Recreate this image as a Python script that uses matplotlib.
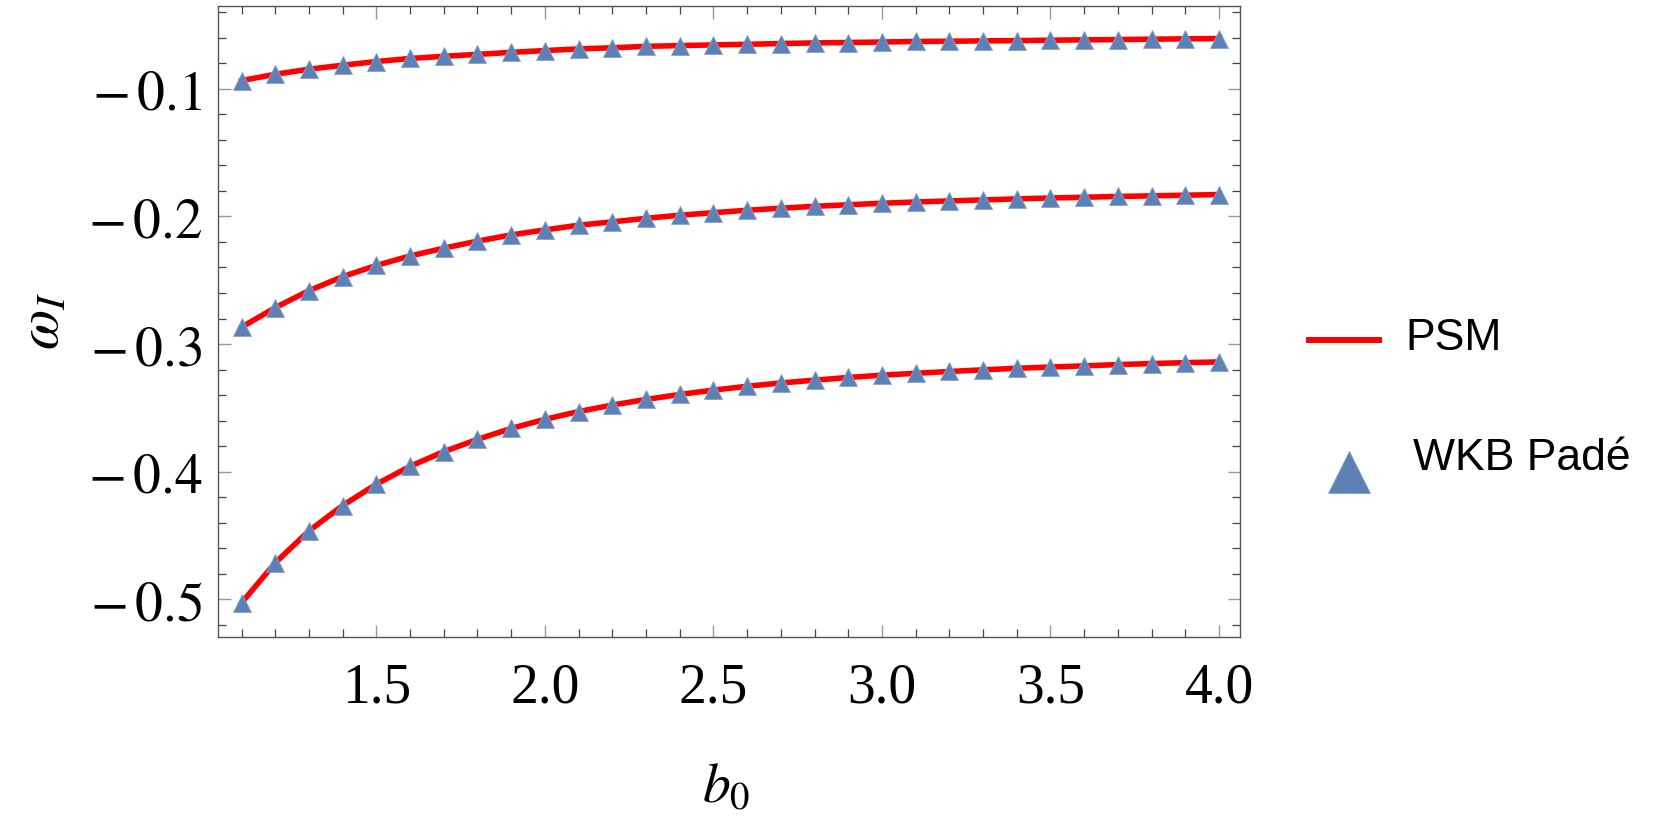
import matplotlib
matplotlib.use("Agg")
import matplotlib.pyplot as plt
from matplotlib.lines import Line2D
from matplotlib.ticker import MultipleLocator

# b0 values where the modes are computed
b0 = [1.1, 1.2, 1.3, 1.4, 1.5, 1.6, 1.7, 1.8, 1.9, 2.0,
      2.1, 2.2, 2.3, 2.4, 2.5, 2.6, 2.7, 2.8, 2.9, 3.0,
      3.1, 3.2, 3.3, 3.4, 3.5, 3.6, 3.7, 3.8, 3.9, 4.0]

# imaginary part of the frequency, three overtones
omega_n0 = [-0.0936, -0.0887, -0.0847, -0.0816, -0.0787, -0.0763, -0.0746, -0.0731, -0.0715, -0.0701,
            -0.0688, -0.0679, -0.0668, -0.0662, -0.0657, -0.0652, -0.0646, -0.0641, -0.0638, -0.0634,
            -0.0630, -0.0628, -0.0625, -0.0623, -0.0620, -0.0617, -0.0615, -0.0612, -0.0609, -0.0607]
omega_n1 = [-0.2868, -0.2715, -0.2582, -0.2472, -0.2384, -0.2310, -0.2249, -0.2194, -0.2145, -0.2106,
            -0.2069, -0.2043, -0.2015, -0.1991, -0.1971, -0.1952, -0.1936, -0.1921, -0.1909, -0.1897,
            -0.1887, -0.1879, -0.1871, -0.1863, -0.1856, -0.1850, -0.1844, -0.1839, -0.1834, -0.1829]
omega_n2 = [-0.5028, -0.4714, -0.4464, -0.4265, -0.4098, -0.3958, -0.3843, -0.3747, -0.3661, -0.3590,
            -0.3529, -0.3478, -0.3434, -0.3395, -0.3361, -0.3331, -0.3305, -0.3283, -0.3262, -0.3244,
            -0.3229, -0.3215, -0.3202, -0.3190, -0.3180, -0.3171, -0.3161, -0.3153, -0.3146, -0.3140]

x_ticks = [1.5, 2.0, 2.5, 3.0, 3.5, 4.0]
y_ticks = [-0.5, -0.4, -0.3, -0.2, -0.1]

plt.rcParams['mathtext.fontset'] = 'stix'
serif = ['Liberation Serif', 'DejaVu Serif']

fig = plt.figure(figsize=(16.61, 8.23), dpi=100)
ax = fig.add_axes([0.1312, 0.226, 0.6153, 0.7667])

for w in (omega_n0, omega_n1, omega_n2):
    ax.plot(b0, w, color='red', lw=4.0, zorder=2)
    ax.plot(b0, w, ls='none', marker='^', ms=13, color='#5E81B5',
            mec='#86a0cc', mew=0.6, zorder=3)

ax.set_xlim(1.03, 4.062)
ax.set_ylim(-0.5295, -0.0352)

ax.set_xticks(x_ticks)
ax.set_xticklabels(['%.1f' % t for t in x_ticks], family=serif, fontsize=40)
ax.set_yticks(y_ticks)
ax.set_yticklabels([r'$-\,0.%d$' % round(abs(t) * 10) for t in y_ticks], fontsize=40)
ax.xaxis.set_minor_locator(MultipleLocator(0.1))
ax.yaxis.set_minor_locator(MultipleLocator(0.02))

# Mathematica-like frame: ticks inside on all four sides
ax.tick_params(which='both', direction='in', top=True, right=True)
ax.tick_params(which='major', length=9, width=1.0, color='#999999')
ax.tick_params(axis='x', which='major', pad=18)
ax.tick_params(axis='y', which='major', pad=11)
ax.tick_params(which='minor', length=5.5, width=0.9, color='#444444')
for s in ax.spines.values():
    s.set_color('#555555')
    s.set_linewidth(1.0)

ax.set_xlabel(r'$b_0$', fontsize=40, va='baseline')
ax.xaxis.set_label_coords(0.497, -0.2615)
ax.set_ylabel(r'$\omega_I$', fontsize=42, va='baseline')
ax.yaxis.set_label_coords(-0.1563, 0.5)

# legend on the right, outside the frame
W, H = 1661, 823
fig.add_artist(Line2D([1309 / W, 1379 / W], [1 - 340 / H, 1 - 340 / H], color='red', lw=4.3))
fig.text(1405 / W, 1 - 338 / H, 'PSM', family='Liberation Sans', fontsize=32, va='center')
fig.add_artist(Line2D([1349 / W], [1 - 472 / H], marker='^', ms=30, color='#5E81B5',
                      mec='#86a0cc', mew=0.6, ls='none'))
fig.text(1413 / W, 1 - 459 / H, 'WKB Padé', family='Liberation Sans', fontsize=32, va='center')

fig.savefig('out.png', dpi=100)
